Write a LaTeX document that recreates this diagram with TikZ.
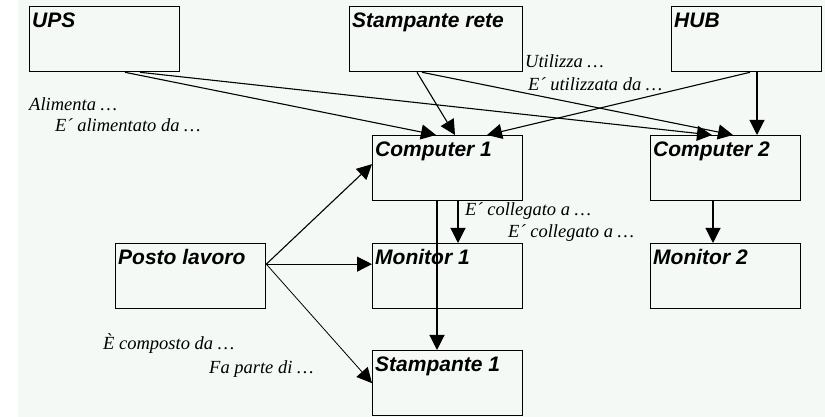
\documentclass[tikz,border=0pt]{standalone}
\usepackage{fontspec}
\setmainfont{Liberation Serif}
\setsansfont{Liberation Sans}
\usetikzlibrary{arrows.meta,positioning}

\definecolor{sfondo}{RGB}{244,249,246}

\tikzset{
  box/.style={draw, line width=1.3pt, anchor=north west,
    minimum width=150pt, minimum height=65pt, inner sep=0pt},
  titolo/.style={anchor=base west, inner sep=0pt,
    font=\sffamily\bfseries\itshape\fontsize{21}{25}\selectfont},
  nota/.style={anchor=base west, inner sep=0pt,
    font=\itshape\fontsize{18.5}{22}\selectfont},
  freccia/.style={line width=1.1pt, -{Triangle[length=15pt,width=15pt]}}
}

\begin{document}
\begin{tikzpicture}[x=1pt,y=1pt]
\useasboundingbox (0,0) rectangle (825,417);
\fill[sfondo] (18,0) rectangle (825,417);

% caselle
\node[box] (ups) at (29,411) {};
\node[box,minimum width=173pt] (rete) at (349,411) {};
\node[box] (hub) at (671,411) {};
\node[box] (pc1) at (372,282) {};
\node[box] (pc2) at (650,282) {};
\node[box] (posto) at (115,174) {};
\node[box] (mon1) at (372,174) {};
\node[box] (mon2) at (650,174) {};
\node[box] (stamp1) at (372,67) {};

\node[titolo] (upst) at ([shift={(3pt,-22pt)}]ups.north west) {UPS};
\node[titolo] (retet) at ([shift={(3pt,-22pt)}]rete.north west) {Stampante rete};
\node[titolo] (hubt) at ([shift={(3pt,-22pt)}]hub.north west) {HUB};
\node[titolo] (pc1t) at ([shift={(3pt,-22pt)}]pc1.north west) {Computer 1};
\node[titolo] (pc2t) at ([shift={(3pt,-22pt)}]pc2.north west) {Computer 2};
\node[titolo] (postot) at ([shift={(3pt,-22pt)}]posto.north west) {Posto lavoro};
\node[titolo] (mon1t) at ([shift={(3pt,-22pt)}]mon1.north west) {Monitor 1};
\node[titolo] (mon2t) at ([shift={(3pt,-22pt)}]mon2.north west) {Monitor 2};
\node[titolo] (stamp1t) at ([shift={(3pt,-22pt)}]stamp1.north west) {Stampante 1};

% collegamenti
\draw[freccia] ([xshift=96pt]ups.south west) -- ([xshift=64pt]pc1.north west);
\draw[freccia] ([xshift=111pt]ups.south west) -- ([xshift=62pt]pc2.north west);
\draw[freccia] ([xshift=68pt]rete.south west) -- ([xshift=83pt]pc1.north west);
\draw[freccia] ([xshift=73pt]rete.south west) -- ([xshift=83pt]pc2.north west);
\draw[freccia] ([xshift=79pt]hub.south west) -- ([xshift=115pt]pc1.north west);
\draw[freccia] ([xshift=86pt]hub.south west) -- ([xshift=107pt]pc2.north west);

\draw[freccia] ([xshift=86pt]pc1.south west) -- ([xshift=86pt]mon1.north west);
\draw[freccia] ([xshift=65pt]pc1.south west) -- ([xshift=65pt]stamp1.north west);
\draw[freccia] ([xshift=63pt]pc2.south west) -- ([xshift=63pt]mon2.north west);

\draw[freccia] ([yshift=12pt]posto.east) -- ([yshift=4pt]pc1.west);
\draw[freccia] ([yshift=12pt]posto.east) -- ([yshift=12pt]mon1.west);
\draw[freccia,line width=0.8pt] ([yshift=12pt]posto.east) -- (stamp1.west);

% etichette
\node[nota] (alim) at (29,306) {Alimenta …};
\node[nota] (alimda) at (55,285) {E´ alimentato da …};
\node[nota] (util) at (525,349) {Utilizza …};
\node[nota] (utilda) at (528,326) {E´ utilizzata da …};
\node[nota] (coll) at (465,201) {E´ collegato a …};
\node[nota] (colla) at (508,179) {E´ collegato a …};
\node[nota] (comp) at (103,67) {È composto da …};
\node[nota] (parte) at (209,43) {Fa parte di …};

\end{tikzpicture}
\end{document}
